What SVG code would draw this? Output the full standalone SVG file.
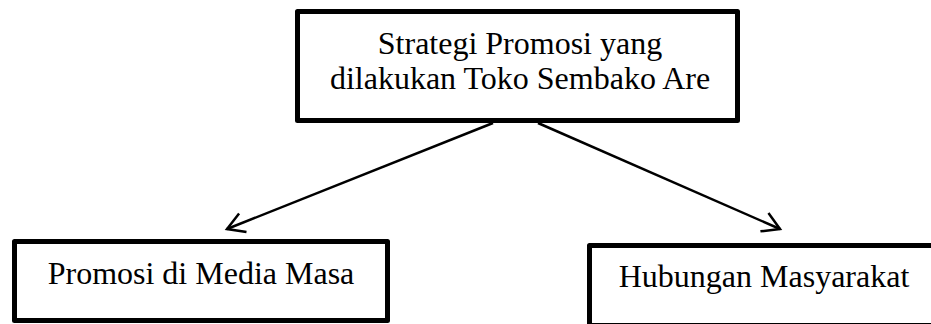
<svg xmlns="http://www.w3.org/2000/svg" width="931" height="324" viewBox="0 0 931 324">
<style>
.box{fill:#fff;stroke:#000;stroke-width:5;stroke-linejoin:round}
.t{font-family:"Liberation Serif","Times New Roman",serif;font-size:32px;fill:#000;text-anchor:middle}
.c{stroke:#000;stroke-width:2.5;fill:none}
</style>
<defs>
<marker id="ah" markerUnits="userSpaceOnUse" markerWidth="24" markerHeight="24" viewBox="-20 -12 24 24" refX="0" refY="0" orient="auto">
<path d="M-17,-10 L0,0 L-17,10" fill="none" stroke="#000" stroke-width="2.5" stroke-linejoin="miter"/>
</marker>
</defs>
<rect width="931" height="324" fill="#fff"/>
<g id="connectors">
<line class="c" x1="493" y1="123" x2="227" y2="229" marker-end="url(#ah)"/>
<line class="c" x1="538" y1="123" x2="780" y2="229" marker-end="url(#ah)"/>
</g>
<g id="node-top">
<rect class="box" x="297.5" y="11.5" width="440" height="109"/>
<text class="t" x="520" y="54">Strategi Promosi yang</text>
<text class="t" x="520" y="89">dilakukan Toko Sembako Are</text>
</g>
<g id="node-left">
<rect class="box" x="14.5" y="241.5" width="373" height="79"/>
<text class="t" x="201" y="284">Promosi di Media Masa</text>
</g>
<g id="node-right">
<rect class="box" x="589.5" y="245.5" width="360" height="80"/>
<text class="t" x="764" y="287">Hubungan Masyarakat</text>
</g>
</svg>
